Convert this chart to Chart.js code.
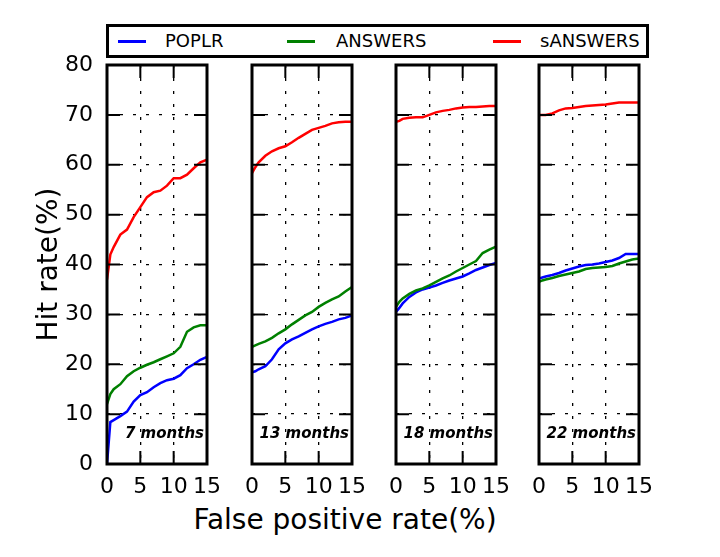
<!DOCTYPE html>
<html>
<head>
<meta charset="utf-8">
<script src="https://cdn.jsdelivr.net/npm/chart.js@4.4.1/dist/chart.umd.min.js"></script>
<style>
  body { margin: 0; background: #fff; width: 720px; height: 557px; position: relative; overflow: hidden; font-family: 'DejaVu Sans', sans-serif; }
  canvas { position: absolute; }
  #legend { position: absolute; left: 106px; top: 24px; width: 537px; height: 28px; border: 3px solid #000; z-index: 2; background: #fff; }
  .entry { position: absolute; top: 0; height: 28px; line-height: 28px; font-size: 18px; color: #000; }
  .swatch { position: absolute; top: 13px; width: 28px; height: 3px; }
  #xtitle { position: absolute; left: 0; top: 503px; width: 690px; text-align: center; font-size: 28px; line-height: 34px; color: #000; }
</style>
</head>
<body>
<div id="legend"></div>
<div id="xtitle">False positive rate(%)</div>
<script>
// false positive rate (%) sample points, shared by all curves
const fpr = [0, 0.5, 1, 2, 3, 4, 5, 6, 7, 8, 9, 10, 11, 12, 13, 14, 15];

const seriesNames = ['POPLR', 'ANSWERS', 'sANSWERS'];
const seriesColors = ['#0000ff', '#008000', '#ff0000'];
const panelLabels = ['7 months', '13 months', '18 months', '22 months'];
const xTicks = [0, 5, 10, 15];
const yTicks = [0, 10, 20, 30, 40, 50, 60, 70, 80];

// hit rate (%) per panel
const poplr7    = [0, 8.4, 8.8, 9.6, 10.5, 12.5, 13.8, 14.4, 15.4, 16.2, 16.8, 17.1, 17.8, 19.2, 20.0, 20.9, 21.5];
const answers7  = [12.0, 14.0, 15.0, 16.0, 17.6, 18.6, 19.3, 19.9, 20.4, 21.0, 21.6, 22.2, 23.5, 26.5, 27.4, 27.8, 27.8];
const sanswers7 = [37.0, 42.0, 43.5, 46.0, 47.0, 49.5, 51.5, 53.5, 54.5, 54.8, 55.8, 57.3, 57.3, 58.0, 59.3, 60.5, 61.0];

const poplr13    = [18.4, 18.6, 19.0, 19.6, 21.0, 23.0, 24.2, 25.0, 25.6, 26.3, 27.0, 27.6, 28.1, 28.5, 29.0, 29.3, 29.8];
const answers13  = [23.5, 23.8, 24.1, 24.6, 25.3, 26.2, 27.0, 28.0, 28.9, 29.8, 30.5, 31.5, 32.3, 33.0, 33.6, 34.6, 35.5];
const sanswers13 = [58.3, 59.5, 60.5, 61.8, 62.7, 63.3, 63.7, 64.5, 65.4, 66.2, 67.0, 67.4, 67.8, 68.3, 68.5, 68.6, 68.6];

const poplr18    = [30.5, 31.3, 32.2, 33.5, 34.4, 35.0, 35.4, 35.8, 36.3, 36.8, 37.2, 37.6, 38.2, 38.9, 39.4, 39.9, 40.3];
const answers18  = [31.5, 32.5, 33.2, 34.1, 34.8, 35.2, 35.8, 36.5, 37.2, 37.8, 38.6, 39.3, 40.0, 40.7, 42.3, 43.0, 43.6];
const sanswers18 = [68.6, 68.8, 69.2, 69.4, 69.5, 69.5, 70.0, 70.5, 70.8, 71.0, 71.3, 71.5, 71.6, 71.6, 71.7, 71.8, 71.8];

const poplr22    = [37.2, 37.4, 37.6, 37.9, 38.3, 38.8, 39.2, 39.6, 39.9, 40.0, 40.2, 40.5, 40.8, 41.3, 42.1, 42.1, 42.1];
const answers22  = [36.5, 36.8, 37.0, 37.3, 37.7, 38.0, 38.3, 38.6, 39.1, 39.3, 39.4, 39.5, 39.7, 40.2, 40.6, 41.0, 41.2];
const sanswers22 = [70.0, 70.0, 70.0, 70.3, 70.9, 71.3, 71.4, 71.6, 71.8, 71.9, 72.0, 72.1, 72.3, 72.5, 72.5, 72.5, 72.5];

const panelData = [
    [poplr7, answers7, sanswers7],
    [poplr13, answers13, sanswers13],
    [poplr18, answers18, sanswers18],
    [poplr22, answers22, sanswers22]
];

Chart.defaults.font.family = "'DejaVu Sans', sans-serif";
Chart.defaults.color = '#000';

// legend
const legend = document.getElementById('legend');
const swatchLeft = [9, 178, 384];
const textLeft = [56, 227, 431];
seriesNames.forEach((name, i) => {
    const sw = document.createElement('div');
    sw.className = 'swatch';
    sw.style.left = swatchLeft[i] + 'px';
    sw.style.background = seriesColors[i];
    legend.appendChild(sw);
    const tx = document.createElement('div');
    tx.className = 'entry';
    tx.style.left = textLeft[i] + 'px';
    tx.textContent = name;
    legend.appendChild(tx);
});

// frame, inward ticks and panel caption
const panelFrame = {
    id: 'panelFrame',
    afterDatasetsDraw(chart, args, opts) {
        const { ctx, chartArea: a, scales: { x, y } } = chart;
        ctx.save();
        ctx.strokeStyle = '#000';
        ctx.lineWidth = 2;
        ctx.beginPath();
        x.ticks.forEach(t => {
            if (t.value <= x.min || t.value >= x.max) return;
            const px = x.getPixelForValue(t.value);
            ctx.moveTo(px, a.bottom); ctx.lineTo(px, a.bottom - 13);
            ctx.moveTo(px, a.top); ctx.lineTo(px, a.top + 13);
        });
        y.ticks.forEach(t => {
            if (t.value <= y.min || t.value >= y.max) return;
            const py = y.getPixelForValue(t.value);
            ctx.moveTo(a.left, py); ctx.lineTo(a.left + 13, py);
            ctx.moveTo(a.right, py); ctx.lineTo(a.right - 13, py);
        });
        ctx.stroke();
        ctx.lineWidth = 3;
        ctx.strokeRect(a.left, a.top, a.right - a.left, a.bottom - a.top);
        ctx.font = "italic bold 15px 'DejaVu Sans'";
        ctx.textAlign = 'right';
        ctx.textBaseline = 'alphabetic';
        ctx.fillStyle = '#000';
        ctx.fillText(opts.label, a.right - 3, a.bottom - 26);
        ctx.restore();
    }
};

const panelLeft = [107, 252, 396, 539];
const plotWidth = 108;

panelData.forEach((series, p) => {
    const first = p === 0;
    const yw = first ? 87 : 20;
    const canvas = document.createElement('canvas');
    canvas.width = yw + plotWidth + 16;
    canvas.height = 472;
    canvas.style.left = (panelLeft[p] - yw) + 'px';
    canvas.style.top = '37px';
    document.body.appendChild(canvas);

    new Chart(canvas.getContext('2d'), {
        type: 'line',
        data: {
            datasets: series.map((vals, i) => ({
                label: seriesNames[i],
                data: fpr.map((f, k) => ({ x: f, y: vals[k] })),
                borderColor: seriesColors[i],
                borderWidth: 2.5,
                pointRadius: 0,
                tension: 0,
                fill: false,
                order: 3 - i
            }))
        },
        options: {
            responsive: false,
            animation: false,
            devicePixelRatio: 1,
            layout: { padding: { left: 0, right: 16, top: 28, bottom: 0 } },
            plugins: {
                legend: { display: false },
                tooltip: { enabled: false },
                panelFrame: { label: panelLabels[p] }
            },
            scales: {
                x: {
                    type: 'linear',
                    min: 0,
                    max: 15,
                    afterBuildTicks: s => { s.ticks = xTicks.map(v => ({ value: v })); },
                    afterFit: s => { s.height = 45; },
                    ticks: { font: { size: 22 }, padding: 10, maxRotation: 0, color: '#000' },
                    grid: { color: '#000', lineWidth: 1.3, drawTicks: false },
                    border: { display: false, dash: [3, 10] }
                },
                y: {
                    type: 'linear',
                    min: 0,
                    max: 80,
                    afterBuildTicks: s => { s.ticks = yTicks.map(v => ({ value: v })); },
                    afterFit: s => { s.width = yw; },
                    ticks: { display: first, font: { size: 22 }, padding: 14, color: '#000' },
                    grid: { color: '#000', lineWidth: 1.3, drawTicks: false },
                    border: { display: false, dash: [3, 10] },
                    title: {
                        display: first,
                        text: 'Hit rate(%)',
                        font: { size: 28 },
                        color: '#000',
                        padding: { top: 13, bottom: 0 }
                    }
                }
            }
        },
        plugins: [panelFrame]
    });
});
</script>
</body>
</html>
